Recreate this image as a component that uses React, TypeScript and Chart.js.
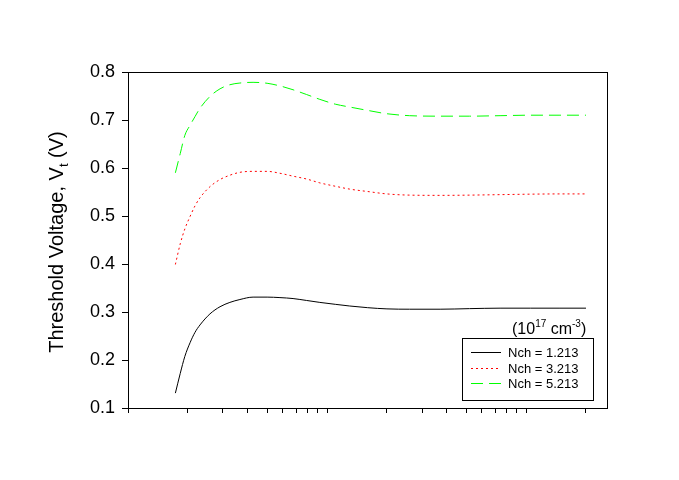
import React, { useEffect, useRef } from "react";
import { Chart, registerables } from "chart.js";

Chart.register(...registerables);

const X_VALUES = [1.73, 1.83, 1.93, 2.05, 2.17, 2.3, 2.58, 2.9, 3.25, 3.65, 4.25, 5, 5.8, 6.75, 7.9, 9.2, 11, 13, 16, 20, 26, 37, 52, 74, 105, 148, 200];

const NCH_1213 = [0.131, 0.172, 0.2075, 0.236, 0.2575, 0.273, 0.296, 0.311, 0.32, 0.326, 0.331, 0.331, 0.33, 0.328, 0.324, 0.32, 0.316, 0.3125, 0.309, 0.3065, 0.3058, 0.3058, 0.307, 0.308, 0.308, 0.308, 0.308];
const NCH_3213 = [0.399, 0.442, 0.473, 0.499, 0.521, 0.538, 0.561, 0.576, 0.585, 0.591, 0.593, 0.593, 0.589, 0.583, 0.577, 0.569, 0.562, 0.556, 0.551, 0.546, 0.5435, 0.543, 0.5435, 0.5445, 0.5455, 0.546, 0.546];
const NCH_5213 = [0.59, 0.63, 0.668, 0.689, 0.707, 0.7245, 0.749, 0.765, 0.7735, 0.777, 0.7785, 0.7765, 0.771, 0.763, 0.753, 0.743, 0.733, 0.727, 0.72, 0.713, 0.709, 0.708, 0.708, 0.709, 0.71, 0.71, 0.71];

const SERIES_LABELS = ["Nch = 1.213", "Nch = 3.213", "Nch = 5.213"];
const X_TICKS = [1, 2, 3, 4, 5, 6, 7, 8, 9, 10, 20, 30, 40, 50, 60, 70, 80, 90, 100, 200];
const Y_TICKS = [0.1, 0.2, 0.3, 0.4, 0.5, 0.6, 0.7, 0.8];
const X_MIN = 1;
const X_MAX = 255;
const Y_MIN = 0.1;
const Y_MAX = 0.8;

const FONT = "'Liberation Sans', Arial, sans-serif";

const STYLES = [
  { color: "#000000", dash: [] as number[] },
  { color: "#ff0000", dash: [2, 3] },
  { color: "#00ff00", dash: [12, 6] },
];

const extrasPlugin = {
  id: "extras",
  afterDraw(chart: any) {
    const ctx = chart.ctx as CanvasRenderingContext2D;
    const a = chart.chartArea;
    ctx.save();
    // frame
    ctx.strokeStyle = "#000";
    ctx.lineWidth = 1;
    ctx.setLineDash([]);
    ctx.strokeRect(Math.round(a.left) + 0.5, Math.round(a.top) + 0.5, Math.round(a.right - a.left), Math.round(a.bottom - a.top));

    // Y title
    ctx.save();
    ctx.translate(63, 242);
    ctx.rotate(-Math.PI / 2);
    ctx.fillStyle = "#000";
    ctx.textBaseline = "alphabetic";
    const big = "20px " + FONT;
    const small = "13px " + FONT;
    ctx.font = big;
    const p1 = "Threshold Voltage, V";
    const p3 = " (V)";
    const w1 = ctx.measureText(p1).width;
    const w3 = ctx.measureText(p3).width;
    ctx.font = small;
    const w2 = ctx.measureText("t").width;
    const x0 = -(w1 + w2 + w3) / 2;
    ctx.font = big;
    ctx.textAlign = "left";
    ctx.fillText(p1, x0, 0);
    ctx.font = small;
    ctx.fillText("t", x0 + w1, 5);
    ctx.font = big;
    ctx.fillText(p3, x0 + w1 + w2, 0);
    ctx.restore();

    // unit label
    ctx.fillStyle = "#000";
    ctx.textAlign = "left";
    ctx.textBaseline = "alphabetic";
    let ux = 512;
    const uy = 334;
    const parts: [string, string, number][] = [
      ["(10", "16px", 0],
      ["17", "10px", -7],
      [" cm", "16px", 0],
      ["-3", "10px", -7],
      [")", "16px", 0],
    ];
    for (const [t, sz, dy] of parts) {
      ctx.font = sz + " " + FONT;
      ctx.fillText(t, ux, uy + dy);
      ux += ctx.measureText(t).width;
    }

    // legend
    const lx = 462, ly = 338, lw = 131, lh = 62;
    ctx.fillStyle = "#fff";
    ctx.fillRect(lx, ly, lw, lh);
    ctx.strokeStyle = "#000";
    ctx.strokeRect(lx + 0.5, ly + 0.5, lw, lh);
    const rows = [352, 368, 383];
    ctx.font = "13px " + FONT;
    ctx.textBaseline = "middle";
    SERIES_LABELS.forEach((lab, i) => {
      const st = STYLES[i];
      ctx.strokeStyle = st.color;
      ctx.setLineDash(st.dash);
      ctx.beginPath();
      ctx.moveTo(471, rows[i] + 0.5);
      ctx.lineTo(501, rows[i] + 0.5);
      ctx.stroke();
      ctx.setLineDash([]);
      ctx.fillStyle = "#000";
      ctx.fillText(lab, 508, rows[i] + 1);
    });
    ctx.restore();
  },
};

export default function App() {
  const ref = useRef<HTMLCanvasElement | null>(null);
  useEffect(() => {
    if (!ref.current) return;
    const seriesData = [NCH_1213, NCH_3213, NCH_5213];
    const chart = new Chart(ref.current, {
      type: "line",
      data: {
        datasets: seriesData.map((arr, i) => ({
          label: SERIES_LABELS[i],
          data: X_VALUES.map((x, j) => ({ x, y: arr[j] })),
          borderColor: STYLES[i].color,
          borderDash: STYLES[i].dash,
          borderWidth: 1,
          pointRadius: 0,
          fill: false,
          cubicInterpolationMode: "monotone" as const,
        })),
      },
      options: {
        responsive: false,
        animation: false,
        layout: { padding: { left: 68, right: 72, top: 72, bottom: 52 } },
        plugins: { legend: { display: false }, tooltip: { enabled: false } },
        scales: {
          x: {
            type: "logarithmic",
            min: X_MIN,
            max: X_MAX,
            afterBuildTicks: (s: any) => {
              s.ticks = X_TICKS.map((v) => ({ value: v }));
            },
            afterFit: (s: any) => {
              s.height = 20;
            },
            ticks: { display: false },
            grid: { drawOnChartArea: false, drawTicks: true, tickLength: 5, color: "#000" },
            border: { display: true, color: "#000" },
          },
          y: {
            type: "linear",
            min: Y_MIN,
            max: Y_MAX,
            afterBuildTicks: (s: any) => {
              s.ticks = Y_TICKS.map((v) => ({ value: v }));
            },
            afterFit: (s: any) => {
              s.width = 60;
            },
            ticks: {
              color: "#000",
              padding: 7,
              font: { family: FONT, size: 18 },
              callback: (v: any) => Number(v).toFixed(1),
            },
            grid: { drawOnChartArea: false, drawTicks: true, tickLength: 6, color: "#000" },
            border: { display: true, color: "#000" },
          },
        },
      },
      plugins: [extrasPlugin],
    });
    return () => chart.destroy();
  }, []);
  return (
    <div style={{ position: "absolute", left: 0, top: 0, width: 679, height: 480, background: "#fff" }}>
      <canvas ref={ref} width={679} height={480} />
    </div>
  );
}
